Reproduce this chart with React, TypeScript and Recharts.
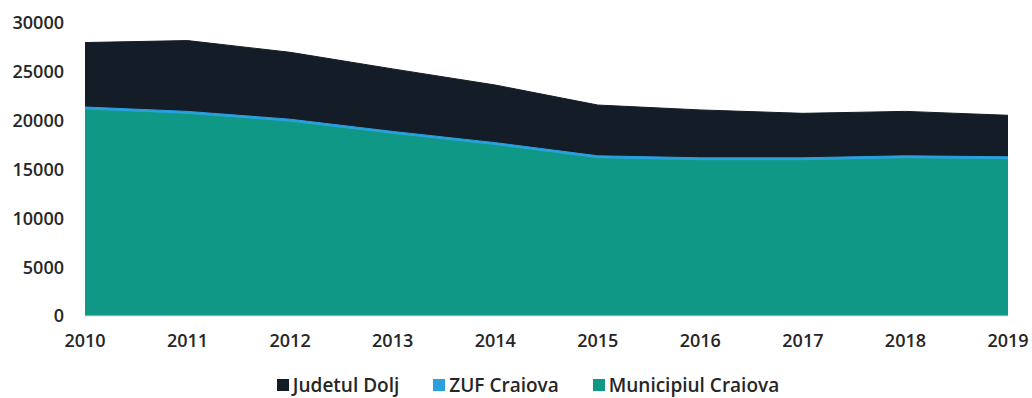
import { Area, AreaChart, Legend, XAxis, YAxis } from "recharts";

// Elevi inscrisi, 2010-2019 — ariile se suprapun (nu sunt stivuite)
const years = ["2010", "2011", "2012", "2013", "2014", "2015", "2016", "2017", "2018", "2019"];
const judetulDolj = [28000, 28200, 27000, 25300, 23650, 21600, 21100, 20750, 20950, 20550];
const zufCraiova = [21400, 20950, 20150, 18900, 17750, 16400, 16200, 16200, 16400, 16300];
const municipiulCraiova = [21100, 20650, 19850, 18600, 17450, 16100, 15900, 15900, 16100, 16000];
const yTicks = [0, 5000, 10000, 15000, 20000, 25000, 30000];

const series = [
  { key: "judet", name: "Judetul Dolj", color: "#141c28" },
  { key: "zuf", name: "ZUF Craiova", color: "#2aa0dc" },
  { key: "municipiu", name: "Municipiul Craiova", color: "#109886" },
];

const data = years.map((year, i) => ({
  year,
  judet: judetulDolj[i],
  zuf: zufCraiova[i],
  municipiu: municipiulCraiova[i],
}));

const font = { fontFamily: "'Open Sans', sans-serif", fontWeight: 600 };

// legenda in ordinea seriilor, ca in Excel (Recharts o sorteaza altfel)
function LegendRow() {
  return (
    <div style={{ display: "flex", justifyContent: "center", gap: 34, ...font, fontSize: 19, color: "#262626" }}>
      {series.map((s) => (
        <span key={s.key} style={{ display: "flex", alignItems: "center", gap: 4 }}>
          <span style={{ width: 12, height: 12, background: s.color, display: "inline-block" }} />
          {s.name}
        </span>
      ))}
    </div>
  );
}

export default function App() {
  return (
    <div style={{ position: "absolute", left: 0, top: 0, background: "#fff" }}>
      <AreaChart
        width={1032}
        height={398}
        data={data}
        margin={{ top: 23, right: 24, bottom: 0, left: 0 }}
      >
        <XAxis
          dataKey="year"
          tick={{ fontSize: 18, fill: "#262626", ...font }}
          tickLine={false}
          axisLine={{ stroke: "#d9d9d9" }}
          tickMargin={12}
          height={56}
          interval={0}
        />
        <YAxis
          domain={[0, 30000]}
          ticks={yTicks}
          tick={{ fontSize: 18, fill: "#262626", ...font }}
          tickLine={false}
          axisLine={false}
          tickMargin={15}
          width={85}
          interval={0}
        />
        <Legend verticalAlign="bottom" content={<LegendRow />} wrapperStyle={{ left: 24 }} />
        {series.map((s) => (
          <Area
            key={s.key}
            type="linear"
            dataKey={s.key}
            name={s.name}
            stroke={s.color}
            strokeWidth={1}
            fill={s.color}
            fillOpacity={1}
            isAnimationActive={false}
          />
        ))}
      </AreaChart>
    </div>
  );
}
